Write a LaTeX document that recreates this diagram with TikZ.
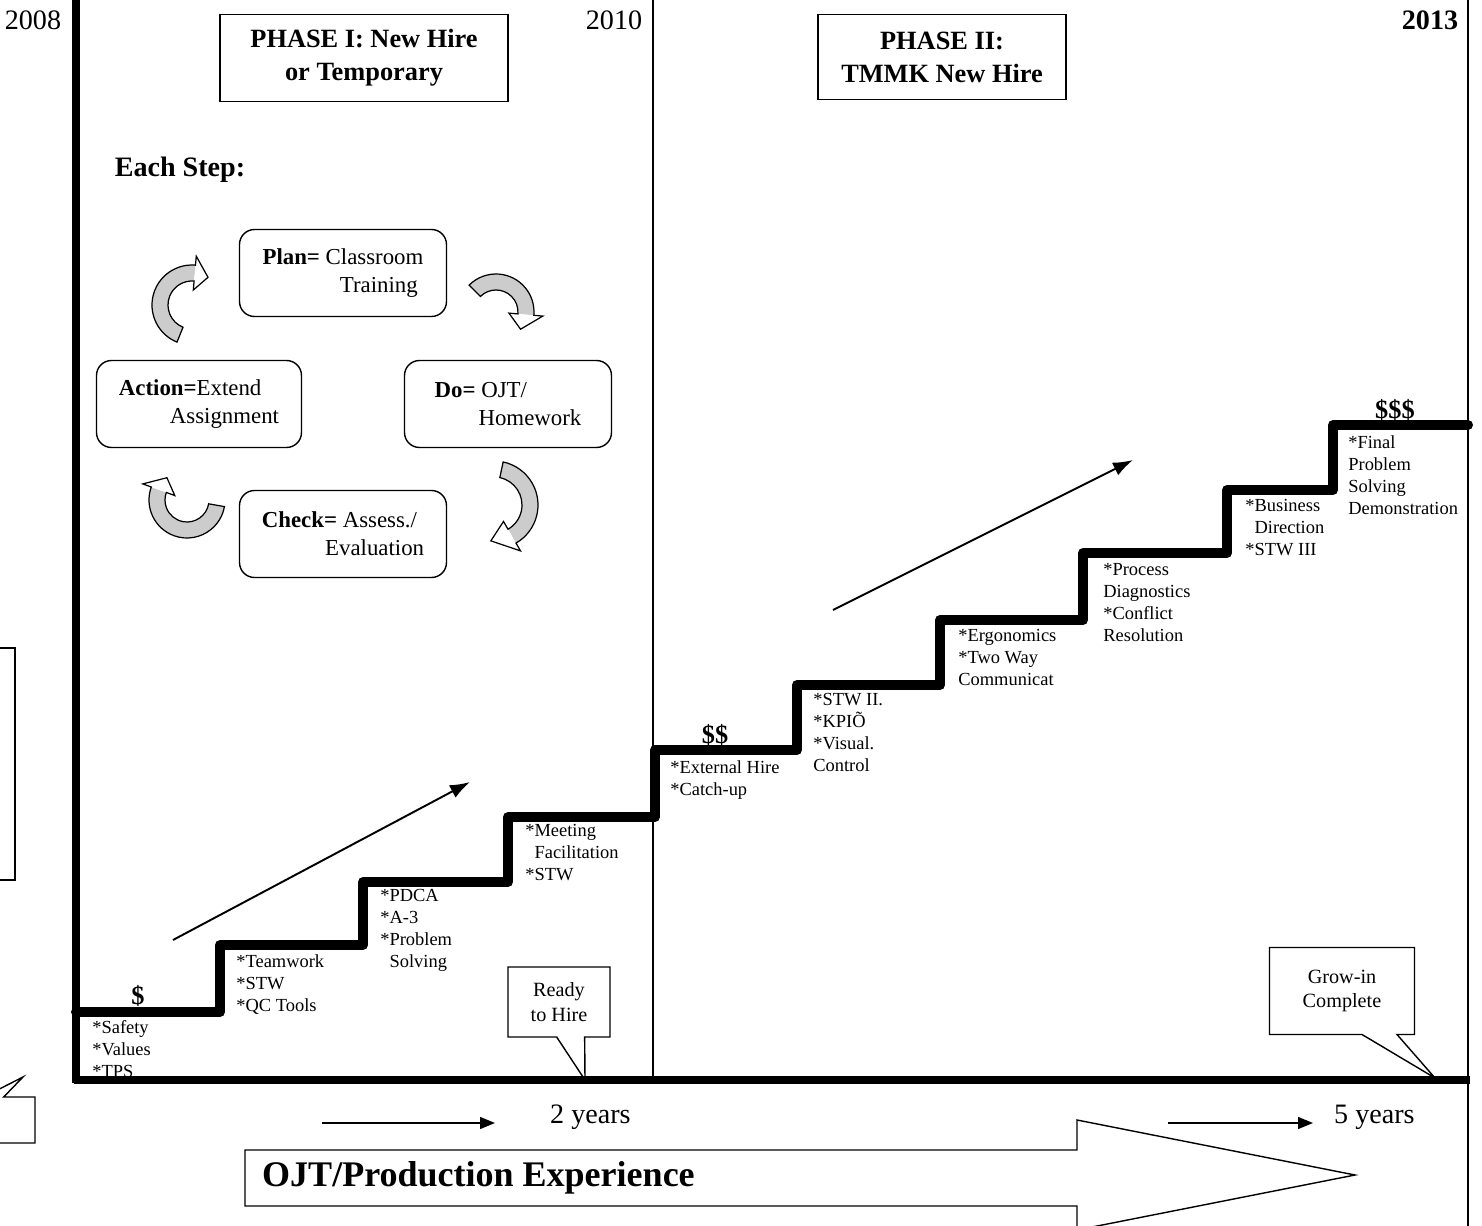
\documentclass[tikz,border=0pt]{standalone}
\usepackage{fontspec}
\setmainfont{Liberation Serif}
\usetikzlibrary{arrows.meta,positioning,calc,shapes.callouts}

% curved block arrow of the PDCA cycle: centre, radius, start angle, end angle, tip angle
\newcommand{\cyclearrow}[5]{%
  \fill[gray!40] ($(#1)+({#3}:{#2-8})$) arc[start angle=#3, end angle=#4, radius=#2-8]
    -- ($(#1)+({#4}:{#2+8})$) arc[start angle=#4, end angle=#3, radius=#2+8] -- cycle;
  \fill[white] ($(#1)+({#4}:{#2-17})$) -- ($(#1)+({#5}:{#2})$) -- ($(#1)+({#4}:{#2+17})$) -- cycle;
  \draw[line width=0.7pt, line join=miter] ($(#1)+({#3}:{#2-8})$) arc[start angle=#3, end angle=#4, radius=#2-8]
    -- ($(#1)+({#4}:{#2-17})$) -- ($(#1)+({#5}:{#2})$) -- ($(#1)+({#4}:{#2+17})$)
    -- ($(#1)+({#4}:{#2+8})$) arc[start angle=#4, end angle=#3, radius=#2+8] -- cycle;
}

\begin{document}
\begin{tikzpicture}[
    x=0.02cm, y=-0.02cm,
    every node/.style={font=\fontsize{10.5}{12.5}\selectfont},
    year/.style={font=\fontsize{16}{18}\selectfont},
    phasebox/.style={draw, line width=0.8pt, align=center, font=\bfseries\fontsize{15}{18.7}\selectfont},
    cyclebox/.style={draw, line width=0.8pt, rounded corners=8.5pt, align=left, minimum width=4.14cm, minimum height=1.74cm, font=\fontsize{13}{15.9}\selectfont},
    stepnote/.style={anchor=north west, inner sep=0pt, align=left, font=\fontsize{10.5}{12.5}\selectfont},
    cash/.style={inner sep=0pt, font=\bfseries\fontsize{15}{15}\selectfont},
    stair/.style={line width=5.7pt, line join=round, line cap=round},
    axis/.style={line width=4pt},
    divider/.style={line width=0.9pt},
    trend/.style={-{Latex[length=4mm, width=2.8mm]}, line width=1.1pt},
    span/.style={-{Triangle[length=3mm, width=2.4mm]}, line width=0.8pt},
    note/.style={rectangle callout, draw, fill=white, line width=0.8pt, align=center, font=\fontsize{11.5}{14}\selectfont}
]
\useasboundingbox (0,0) rectangle (1482,1226);

% frame
\draw[divider] (653,0) -- (653,1080);
\draw[divider] (1468,0) -- (1468,1226);

% years and phases
\node[year] (y2008) at (33,20) {2008};
\node[year] (y2010) at (614,20) {2010};
\node[year, font=\bfseries\fontsize{16}{18}\selectfont] (y2013) at (1430,20) {2013};
\node[phasebox, minimum width=5.76cm, minimum height=1.74cm] (phase1) at (364,58) {PHASE I: New Hire\\or Temporary};
\node[phasebox, minimum width=4.96cm, minimum height=1.7cm] (phase2) at (942,57) {PHASE II:\\TMMK New Hire};

% PDCA cycle
\node[font=\bfseries\fontsize{16}{18}\selectfont] (each) at (180,170) {Each Step:};
\node[cyclebox] (plan) at (343,273) {\textbf{Plan=} Classroom\\\hspace*{44pt}Training};
\node[cyclebox, minimum width=4.1cm] (action) at (199,404) {\textbf{Action=}Extend\\\hspace*{29pt}Assignment};
\node[cyclebox] (do) at (508,404) {\textbf{Do=} OJT/\\\hspace*{25pt}Homework};
\node[cyclebox] (check) at (343,534) {\textbf{Check=} Assess./\\\hspace*{36pt}Evaluation};
\cyclearrow{496,312}{30}{-135}{5}{35}
\cyclearrow{494,505}{36}{-78}{60}{95}
\cyclearrow{187,500}{30}{10}{200}{228}
\cyclearrow{192,305}{32}{112}{275}{300}

% left edge remnants
\node[draw, line width=0.8pt, minimum width=2.2cm, minimum height=4.64cm] (leftbox) at (-40,764) {};
\coordinate (lefttip) at (23,1077);
\node[note, minimum width=3cm, minimum height=0.92cm, callout absolute pointer=(lefttip), callout pointer width=0.4cm] (leftnote) at (-40,1120) {};

% stairs
\draw[stair] (76,1012) -- (220,1012) -- (220,945) -- (363,945) -- (363,882) -- (508,882)
  -- (508,817) -- (655,817) -- (655,750) -- (797,750) -- (797,685) -- (940,685)
  -- (940,620) -- (1083,620) -- (1083,553) -- (1227,553) -- (1227,490) -- (1333,490)
  -- (1333,425) -- (1468,425);

\node[cash] (c1) at (138,996) {\$};
\node[cash] (c2) at (715,735) {\$\$};
\node[cash] (c3) at (1395,410) {\$\$\$};

\node[stepnote] (s1) at (92,1020) {*Safety\\*Values\\*TPS};
\node[stepnote] (s2) at (236,954) {*Teamwork\\*STW\\*QC Tools};
\node[stepnote] (s3) at (380,889) {*PDCA\\*A-3\\*Problem\\\phantom{*}Solving};
\node[stepnote] (s4) at (525,824) {*Meeting\\\phantom{*}Facilitation\\*STW};
\node[stepnote] (s5) at (670,760) {*External Hire\\*Catch-up};
\node[stepnote] (s6) at (813,693) {*STW II.\\*KPIÕ\\*Visual.\\Control};
\node[stepnote] (s7) at (958,629) {*Ergonomics\\*Two Way\\Communicat};
\node[stepnote] (s8) at (1103,563) {*Process\\Diagnostics\\*Conflict\\Resolution};
\node[stepnote] (s9) at (1245,499) {*Business\\\phantom{*}Direction\\*STW III};
\node[stepnote] (s10) at (1348,435) {*Final\\Problem\\Solving\\Demonstration};

% trend arrows
\coordinate (t1s) at (173,940);
\coordinate (t1e) at (470,782);
\coordinate (t2s) at (833,610);
\coordinate (t2e) at (1133,460);
\draw[trend] (t1s) -- (t1e);
\draw[trend] (t2s) -- (t2e);

% callouts
\coordinate (hiretip) at (585,1080);
\coordinate (growtip) at (1435,1078);
\node[note, minimum width=2.04cm, minimum height=1.4cm, callout absolute pointer=(hiretip), callout pointer width=0.56cm] (ready) at (559,1002) {Ready\\to Hire};
\node[note, minimum width=2.9cm, minimum height=1.74cm, callout absolute pointer=(growtip), callout pointer width=0.7cm] (grow) at (1342,991) {Grow-in\\Complete};

% axes
\draw[axis] (76,0) -- (76,1083);
\draw[axis] (74,1080) -- (1470,1080);

% time line
\coordinate (a2s) at (322,1123);
\coordinate (a2e) at (495,1123);
\coordinate (a5s) at (1168,1123);
\coordinate (a5e) at (1313,1123);
\node[anchor=west, year] (two) at (544,1117) {2 years};
\node[anchor=west, year] (five) at (1328,1117) {5 years};
\draw[span] (a2s) -- (a2e);
\draw[span] (a5s) -- (a5e);

\draw[line width=0.8pt] (245,1150) -- (1077,1150) -- (1077,1120) -- (1355,1175)
  -- (1077,1230) -- (1077,1206) -- (245,1206) -- cycle;
\node[anchor=west, font=\bfseries\fontsize{20.5}{24}\selectfont] (ojt) at (256,1178) {OJT/Production Experience};
\end{tikzpicture}
\end{document}
